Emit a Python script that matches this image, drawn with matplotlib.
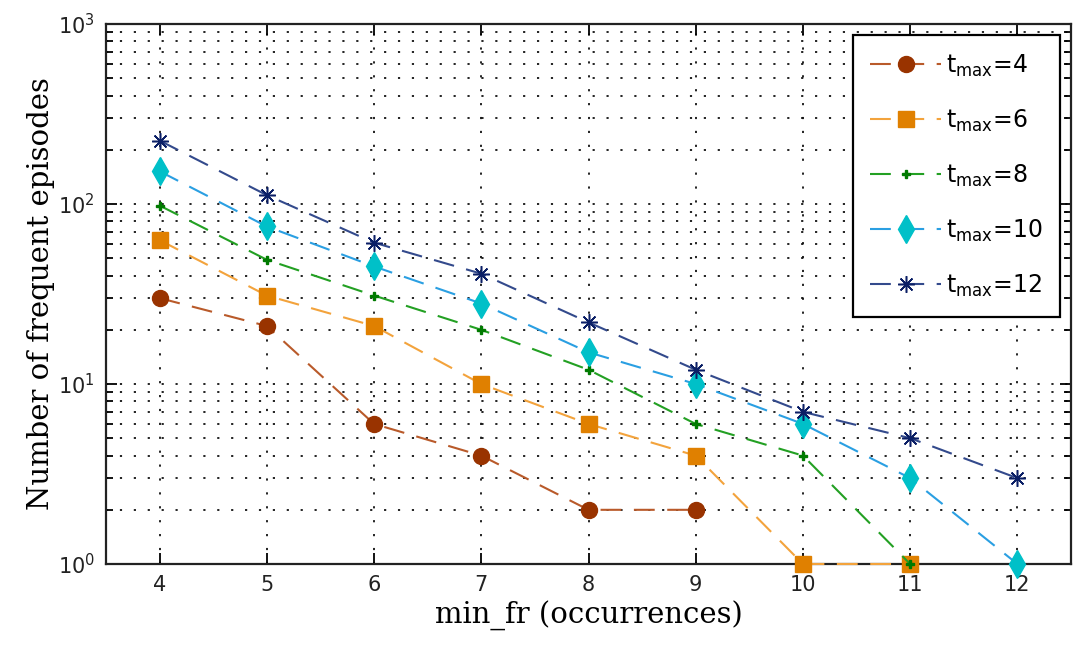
import numpy as np
import matplotlib
matplotlib.use("Agg")
import matplotlib.pyplot as plt
from matplotlib.ticker import LogLocator, NullFormatter

min_fr = [4, 5, 6, 7, 8, 9, 10, 11, 12]

tmax4 = [30, 21, 6, 4, 2, 2]
tmax6 = [63, 31, 21, 10, 6, 4, 1, 1]
tmax8 = [98, 49, 31, 20, 12, 6, 4, 1]
tmax10 = [152, 75, 45, 28, 15, 10, 6, 3, 1]
tmax12 = [225, 112, 61, 41, 22, 12, 7, 5, 3]

labels = ["4", "6", "8", "10", "12"]

series = [tmax4, tmax6, tmax8, tmax10, tmax12]
# (line colour, marker face colour, marker, marker size, marker edge width)
styles = [
    ("#b95a2a", "#993300", "o", 11.5, 1.0),
    ("#f3a33c", "#e08000", "s", 12, 1.0),
    ("#23a023", "#007a00", "P", 5.5, 1.0),
    ("#2a9fe2", "#00c0c8", "d", 14, 1.0),
    ("#334a8c", "#0b1f66", (8, 2, 0), 12, 1.1),
]

fig = plt.figure(figsize=(10.75, 6.51), dpi=100)
ax = fig.add_axes([106 / 1075, 87 / 651, 965 / 1075, 540 / 651])

for vals, lab, (lc, mc, mk, ms, mew) in zip(series, labels, styles):
    x = min_fr[:len(vals)]
    ax.plot(x, vals, linestyle=(0, (10, 6)), color=lc, lw=1.5,
            marker=mk, markersize=ms, markerfacecolor=mc, markeredgecolor=mc,
            markeredgewidth=mew,
            label=r"$\mathregular{t_{max}}$=" + lab, clip_on=False, zorder=3)

ax.set_yscale("log")
ax.set_ylim(1, 1000)
ax.set_xlim(3.5, 12.5)
ax.set_xticks(min_fr)
ax.yaxis.set_major_locator(LogLocator(base=10, numticks=10))
ax.yaxis.set_minor_locator(LogLocator(base=10, subs=np.arange(2, 10), numticks=10))
ax.yaxis.set_minor_formatter(NullFormatter())

dots = (0, (1.2, 6.5))
ax.grid(True, which="major", linestyle=dots, color="#111111", lw=1.3)
ax.grid(True, which="minor", axis="y", linestyle=dots, color="#111111", lw=1.3)

ax.tick_params(which="both", direction="in", top=True, right=True,
               labelsize=15, width=1.3, labelcolor="#222222", pad=8)
ax.tick_params(which="major", length=8)
ax.tick_params(which="minor", length=5)
for s in ax.spines.values():
    s.set_linewidth(1.6)
    s.set_color("#222222")

ax.set_xlabel("min_fr (occurrences)", family="DejaVu Serif", fontsize=21, labelpad=4)
ax.set_ylabel("Number of frequent episodes", family="DejaVu Serif", fontsize=21, labelpad=2)

leg = ax.legend(loc="upper right", prop={"size": 17}, frameon=True, fancybox=False,
                edgecolor="black", borderpad=0.75, labelspacing=1.22,
                handlelength=3.0, handletextpad=0.2,
                bbox_to_anchor=(1060 / 1075, 616 / 651), bbox_transform=fig.transFigure,
                borderaxespad=0.0, framealpha=1.0)
leg.get_frame().set_linewidth(1.6)

fig.savefig("out.png", dpi=100)
